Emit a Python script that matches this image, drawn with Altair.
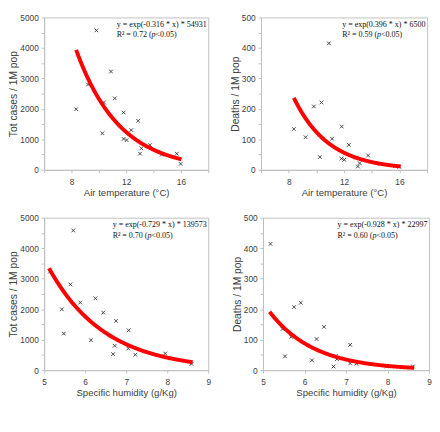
import altair as alt
import pandas as pd

# ---------------- data ----------------
# Top-left: air temperature vs total cases
tl_x = [8.34, 9.21, 9.82, 10.26, 10.37, 10.89, 11.16, 11.81, 11.81, 12.03, 12.37, 12.87, 13.01, 13.11, 13.74, 14.60, 15.70, 15.98]
tl_y = [1990, 2800, 4575, 1200, 2210, 3225, 2345, 1880, 1015, 975, 1305, 1610, 530, 705, 810, 500, 530, 195]
# Top-right: air temperature vs deaths
tr_x = [8.37, 9.22, 9.82, 10.25, 10.37, 10.90, 11.13, 11.83, 11.81, 12.02, 12.35, 12.87, 13.00, 13.12, 13.74, 14.60, 15.70, 15.98]
tr_y = [134, 107, 208, 42, 221, 415, 102, 142, 37, 33, 82, 40, 11, 22, 47, 20, 13, 10]
# Bottom-left: specific humidity vs total cases
bl_x = [5.14, 5.43, 5.48, 5.64, 5.71, 5.88, 6.14, 6.25, 6.44, 6.68, 6.72, 6.75, 7.05, 7.06, 7.22, 7.95, 8.59]
bl_y = [3230, 1994, 1197, 2811, 4580, 2218, 982, 2354, 1887, 525, 798, 1615, 710, 1304, 506, 545, 204]
# Bottom-right: specific humidity vs deaths
br_x = [5.18, 5.47, 5.53, 5.68, 5.75, 5.91, 6.18, 6.29, 6.47, 6.70, 6.75, 6.78, 7.10, 7.10, 7.25, 7.98, 8.61]
br_y = [414, 135, 45, 109, 207, 221, 32, 102, 142, 12, 46, 36, 83, 22, 21, 12, 12]

# exponential fits shown on the chart: y = a * exp(b * x)
fit_a = [54931, 6500, 139573, 22997]
fit_b = [-0.316, -0.396, -0.729, -0.928]
fit_range = [[8.34, 16.05], [8.37, 16.1], [5.12, 8.63], [5.16, 8.64]]
eq_text = ["y = exp(-0.316 * x) * 54931", "y = exp(0.396 * x) * 6500",
           "y = exp(-0.729 * x) * 139573", "y = exp(-0.928 * x) * 22997"]
r2_text = ["0.72", "0.59", "0.70", "0.60"]

temp_ticks = [6, 8, 10, 12, 14, 16, 18]
hum_ticks = [5, 5.5, 6, 6.5, 7, 7.5, 8, 8.5, 9]
case_ticks = list(range(0, 5001, 500))
death_ticks = list(range(0, 501, 50))

# ---------------- styling ----------------
SANS = "Liberation Sans"
SERIF = "Liberation Serif"
TXT = "#404040"
LINE = "#bfbfbf"
FS = 8.2
TIMES_W = {" ": 0.25, "y": 0.5, "=": 0.564, "e": 0.444, "x": 0.5, "p": 0.5, "(": 0.333,
           ")": 0.333, "-": 0.333, ".": 0.25, "*": 0.5, "R": 0.667, "\u00b2": 0.3, "<": 0.564}


def tw(s, size):
    return sum(TIMES_W.get(c, 0.5) for c in s) * size


def panel(xv, yv, xdom, xticks, xmod, xtitle, ydom, yticks, ymod, ytitle, i, W, H):
    df = pd.DataFrame({"x": xv, "y": yv})
    xs = alt.Scale(domain=xdom, nice=False, zero=False)
    ys = alt.Scale(domain=ydom, nice=False, zero=False)
    xax = alt.Axis(values=xticks, format="d", title=xtitle,
                   labelExpr=f"datum.value % {xmod} == 0 ? datum.label : ''",
                   labelOverlap=False, labelFlush=False, tickSize=3, labelPadding=5,
                   titlePadding=2, titleFontSize=9.8)
    yax = alt.Axis(values=yticks, format="d", title=ytitle,
                   labelExpr=f"datum.value % {ymod} == 0 ? datum.label : ''",
                   labelOverlap=False, labelFlush=False, tickSize=3, labelPadding=3,
                   titlePadding=1, titleFontSize=10.5)
    pts = alt.Chart(df).mark_point(
        shape="M-1,-1L1,1M-1,1L1,-1", filled=False, stroke="#333333",
        strokeWidth=0.9, size=14, opacity=1
    ).encode(x=alt.X("x:Q", scale=xs, axis=xax), y=alt.Y("y:Q", scale=ys, axis=yax))

    lo, hi = fit_range[i]
    curve = alt.Chart(alt.sequence(lo, hi + 0.001, 0.02, as_="x")).transform_calculate(
        y=f"{fit_a[i]} * exp({fit_b[i]} * datum.x)"
    ).mark_line(color="#ff0000", strokeWidth=4, strokeCap="butt").encode(
        x=alt.X("x:Q", scale=xs, axis=xax), y=alt.Y("y:Q", scale=ys, axis=yax))

    eq = eq_text[i]
    x0 = W - 1.5 - tw(eq, FS)
    p1 = "R\u00b2 = " + r2_text[i] + " ("
    p2 = "p"
    p3 = "<0.05)"
    x1 = x0 + tw(p1, FS)
    x2 = x1 + tw(p2, FS)

    def txt(s, x, y, italic=False):
        return alt.Chart(pd.DataFrame({"t": [s]})).mark_text(
            font=SERIF, fontSize=FS, align="left", baseline="middle", color="#111111",
            fontStyle="italic" if italic else "normal"
        ).encode(x=alt.value(x), y=alt.value(y), text="t:N")

    return alt.layer(
        pts, curve,
        txt(eq, x0, 7.5), txt(p1, x0, 18.5), txt(p2, x1, 18.5, True), txt(p3, x2, 18.5)
    ).properties(width=W, height=H)


H = 156
WL, WR = 168, 170
tl = panel(tl_x, tl_y, [6, 18], temp_ticks, 4, "Air temperature (\u00b0C)",
           [0, 5000], case_ticks, 1000, "Tot cases / 1M pop", 0, WL, H)
tr = panel(tr_x, tr_y, [6, 18], temp_ticks, 4, "Air temperature (\u00b0C)",
           [0, 500], death_ticks, 100, "Deaths / 1M pop", 1, WR, H)
bl = panel(bl_x, bl_y, [5, 9], hum_ticks, 1, "Specific humidity (g/Kg)",
           [0, 5000], case_ticks, 1000, "Tot cases / 1M pop", 2, WL, H)
br = panel(br_x, br_y, [5, 9], hum_ticks, 1, "Specific humidity (g/Kg)",
           [0, 500], death_ticks, 100, "Deaths / 1M pop", 3, WR, H)

chart = alt.vconcat(
    alt.hconcat(tl, tr, spacing=21),
    alt.hconcat(bl, br, spacing=21),
    spacing=15,
    padding={"left": 0, "top": 0, "right": 0, "bottom": 0},
).configure(
    padding={"left": 0, "top": 0, "right": 0, "bottom": 0}
).configure_view(
    stroke=LINE, strokeWidth=1
).configure_axis(
    grid=False, domainColor=LINE, tickColor=LINE, labelColor=TXT, titleColor=TXT,
    labelFont=SANS, titleFont=SANS, labelFontSize=8.5, titleFontWeight="normal"
)

chart.save("out.html", embed_options={"renderer": "svg", "actions": False})
